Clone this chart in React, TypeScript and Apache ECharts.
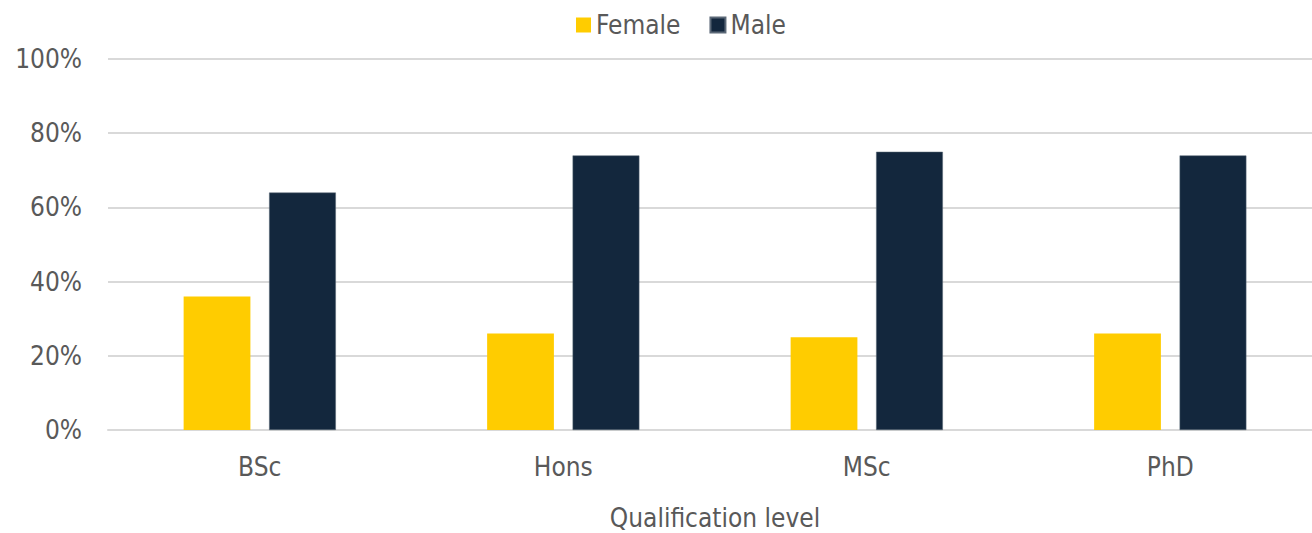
import React, { useEffect, useRef } from "react";
import * as echarts from "echarts";

const categories = ["BSc", "Hons", "MSc", "PhD"];
const femaleValues = [36, 26, 25, 26];
const maleValues = [64, 74, 75, 74];
const seriesNames = ["Female", "Male"];
const axisTitle = "Qualification level";

const FONT = "'DejaVu Sans Condensed', 'DejaVu Sans', sans-serif";
const TEXT = "#595959";
const FS = 26;

export default function App() {
  const ref = useRef<HTMLDivElement>(null);
  useEffect(() => {
    const chart = echarts.init(ref.current!, null, { renderer: "svg" });
    chart.setOption({
      animation: false,
      backgroundColor: "#ffffff",
      textStyle: { fontFamily: FONT },
      legend: {
        top: 7,
        left: 571,
        itemWidth: 15,
        itemHeight: 15,
        itemGap: 29,
        icon: "rect",
        textStyle: { fontFamily: FONT, fontSize: FS, color: TEXT },
        data: seriesNames,
      },
      grid: { left: 108, right: -10, top: 59, bottom: 103, containLabel: false, outerBoundsMode: "none" },
      xAxis: {
        type: "category",
        data: categories,
        name: axisTitle,
        nameLocation: "middle",
        nameGap: 75,
        nameTextStyle: { fontFamily: FONT, fontSize: FS, color: TEXT },
        axisLine: { show: true, lineStyle: { color: "#d9d9d9", width: 2 } },
        axisTick: { show: false },
        axisLabel: { fontFamily: FONT, fontSize: FS, color: TEXT, margin: 24 },
      },
      yAxis: {
        type: "value",
        min: 0,
        max: 100,
        interval: 20,
        axisLabel: { fontFamily: FONT, fontSize: FS, color: TEXT, margin: 26, formatter: "{value}%" },
        axisLine: { show: false },
        axisTick: { show: false },
        splitLine: { lineStyle: { color: "#d9d9d9", width: 2 } },
      },
      series: [
        {
          name: seriesNames[0],
          type: "bar",
          data: femaleValues,
          barWidth: "22%",
          barGap: "28%",
          itemStyle: { color: "#ffcc00" },
        },
        {
          name: seriesNames[1],
          type: "bar",
          data: maleValues,
          barWidth: "22%",
          barGap: "28%",
          itemStyle: { color: "#13273d", borderColor: "#5b6877", borderWidth: 0.5 },
        },
      ],
    });
    return () => chart.dispose();
  }, []);
  return (
    <div
      ref={ref}
      style={{ position: "absolute", left: 0, top: 0, width: 1312, height: 533 }}
    />
  );
}
